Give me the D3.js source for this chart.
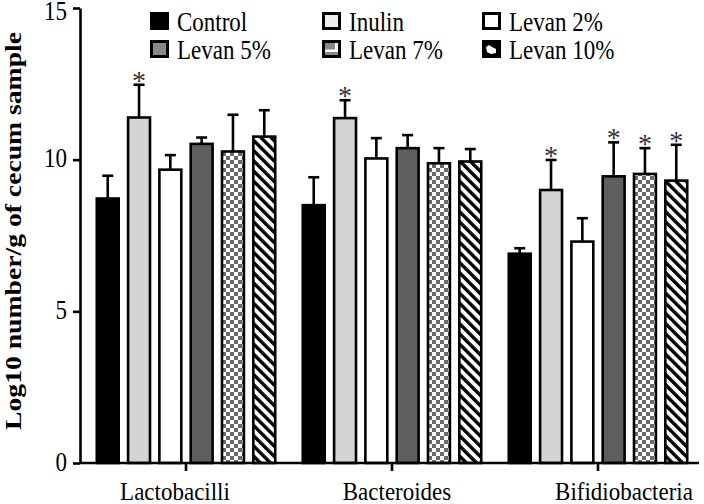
<!DOCTYPE html>
<html>
<head>
<meta charset="utf-8">
<script src="https://cdn.jsdelivr.net/npm/d3@7"></script>
<style>
  body { margin: 0; background: #fff; }
  svg text { font-family: "Liberation Serif", "Times New Roman", serif !important; }
</style>
</head>
<body>
<div id="chart"></div>
<script>
// data
var groups = ["Lactobacilli", "Bacteroides", "Bifidiobacteria"];
var series = ["Control", "Inulin", "Levan 2%", "Levan 5%", "Levan 7%", "Levan 10%"];

var control  = [8.72, 8.50, 6.90];
var inulin   = [11.39, 11.37, 9.00];
var levan2   = [9.67, 10.04, 7.30];
var levan5   = [10.52, 10.38, 9.45];
var levan7   = [10.27, 9.88, 9.53];
var levan10  = [10.76, 9.94, 9.31];

var controlErr = [0.75, 0.92, 0.18];
var inulinErr  = [1.08, 0.59, 0.99];
var levan2Err  = [0.48, 0.67, 0.77];
var levan5Err  = [0.21, 0.43, 1.12];
var levan7Err  = [1.21, 0.50, 0.85];
var levan10Err = [0.87, 0.41, 1.18];

// significance marks (1 = asterisk)
var controlSig = [0, 0, 0];
var inulinSig  = [1, 1, 1];
var levan2Sig  = [0, 0, 0];
var levan5Sig  = [0, 0, 1];
var levan7Sig  = [0, 0, 1];
var levan10Sig = [0, 0, 1];

var yTicks = [0, 5, 10, 15];

var means = [control, inulin, levan2, levan5, levan7, levan10];
var errs = [controlErr, inulinErr, levan2Err, levan5Err, levan7Err, levan10Err];
var sigs = [controlSig, inulinSig, levan2Sig, levan5Sig, levan7Sig, levan10Sig];

var fills = ["#000", "#d4d4d4", "#fff", "#5e5e5e", "url(#checker)", "url(#hatch)"];
var serif = "'Liberation Serif', 'Times New Roman', serif";

var width = 704, height = 504;

var svg = d3.select("#chart").append("svg")
    .attr("width", width)
    .attr("height", height);

var defs = svg.append("defs");

var checker = defs.append("pattern")
    .attr("id", "checker")
    .attr("patternUnits", "userSpaceOnUse")
    .attr("width", 8).attr("height", 8);
checker.append("rect").attr("width", 8).attr("height", 8).attr("fill", "#fff");
checker.append("rect").attr("width", 4).attr("height", 4).attr("fill", "#6a6a6a");
checker.append("rect").attr("x", 4).attr("y", 4).attr("width", 4).attr("height", 4).attr("fill", "#6a6a6a");

var hatch = defs.append("pattern")
    .attr("id", "hatch")
    .attr("patternUnits", "userSpaceOnUse")
    .attr("width", 7.2).attr("height", 7.2)
    .attr("patternTransform", "rotate(-45)");
hatch.append("rect").attr("width", 7.2).attr("height", 7.2).attr("fill", "#fff");
hatch.append("rect").attr("width", 3.4).attr("height", 7.2).attr("fill", "#000");

var y = d3.scaleLinear().domain([0, 15]).range([463, 8]);

var x0 = d3.scaleBand().domain(groups).range([83, 701]);
var x1 = d3.scaleBand().domain(series).range([0, x0.bandwidth()])
    .paddingInner(0.3).paddingOuter(0.44);

// bars
var rows = [];
series.forEach(function (s, si) {
    groups.forEach(function (g, gi) {
        rows.push({ group: g, series: s, si: si, value: means[si][gi], err: errs[si][gi], sig: sigs[si][gi] });
    });
});

var bars = svg.append("g").selectAll("g.bar")
    .data(rows)
    .enter().append("g")
    .attr("class", "bar")
    .attr("transform", function (d) { return "translate(" + (x0(d.group) + x1(d.series)) + ",0)"; });

var bw = x1.bandwidth();

// error bars (upper only)
bars.append("line")
    .attr("x1", bw / 2).attr("x2", bw / 2)
    .attr("y1", function (d) { return y(d.value); })
    .attr("y2", function (d) { return y(d.value + d.err); })
    .attr("stroke", "#000").attr("stroke-width", 2.6);
bars.append("line")
    .attr("x1", bw / 2 - 5.5).attr("x2", bw / 2 + 5.5)
    .attr("y1", function (d) { return y(d.value + d.err); })
    .attr("y2", function (d) { return y(d.value + d.err); })
    .attr("stroke", "#000").attr("stroke-width", 2.6);

bars.append("rect")
    .attr("y", function (d) { return y(d.value); })
    .attr("width", bw)
    .attr("height", function (d) { return y(0) - y(d.value); })
    .attr("fill", function (d) { return fills[d.si]; })
    .attr("stroke", "#000")
    .attr("stroke-width", 2.6);

bars.filter(function (d) { return d.sig; })
    .append("text")
    .attr("x", bw / 2)
    .attr("y", function (d) { return y(d.value + d.err) + 5; })
    .attr("text-anchor", "middle")
    .attr("font-size", 28)
    .attr("fill", "#333")
    .text("*");

// y axis
var yAxis = svg.append("g")
    .attr("transform", "translate(80,0)")
    .call(d3.axisLeft(y).tickValues(yTicks).tickSize(7).tickSizeOuter(0).tickPadding(6));
yAxis.attr("font-family", null);
yAxis.select(".domain").attr("stroke-width", 2.6);
yAxis.selectAll(".tick line").attr("stroke-width", 2.6);
yAxis.selectAll(".tick text")
    .style("font-family", serif)
    .attr("font-size", 23)
    .attr("fill", "#000")
    .attr("x", null).attr("dy", null)
    .attr("transform", function (d) { return "translate(-13," + (d === 15 ? 11 : 7) + ") scale(1,1.15)"; });

// x axis
var xAxis = svg.append("g")
    .attr("transform", "translate(0," + y(0) + ")")
    .call(d3.axisBottom(x0).tickSize(8).tickSizeOuter(0).tickFormat(""));
xAxis.select(".domain").attr("d", "M80,0H699").attr("stroke-width", 2.6);
xAxis.selectAll(".tick line").attr("stroke-width", 2.6);

var labelShift = [-11, 5, 26];
svg.append("g").selectAll("text")
    .data(groups)
    .enter().append("text")
    .attr("transform", function (d, i) {
        return "translate(" + (x0(d) + x0.bandwidth() / 2 + labelShift[i]) + ",500) scale(1,1.12)";
    })
    .attr("text-anchor", "middle")
    .style("font-family", serif)
    .attr("font-size", 23)
    .text(function (d) { return d; });

svg.append("text")
    .attr("transform", "translate(21,231) rotate(-90)")
    .attr("text-anchor", "middle")
    .style("font-family", serif)
    .attr("font-weight", "bold")
    .attr("font-size", 23)
    .attr("textLength", 398)
    .attr("lengthAdjust", "spacingAndGlyphs")
    .text("Log10 number/g of cecum sample");

// legend
var legX = [150, 322, 482], legY = [12, 40];
var legend = svg.append("g").selectAll("g")
    .data(series)
    .enter().append("g")
    .attr("transform", function (d, i) { return "translate(" + legX[i % 3] + "," + legY[Math.floor(i / 3)] + ")"; });

var swFills = ["#000", "#eee", "#fff", "#888", "#888", "#000"];
legend.append("rect")
    .attr("x", 1.5).attr("y", 1.5)
    .attr("width", 16).attr("height", 15)
    .attr("fill", function (d, i) { return swFills[i]; })
    .attr("stroke", "#000").attr("stroke-width", 3);
legend.filter(function (d, i) { return i === 4; })
    .append("path")
    .attr("d", "M3,12H16V3H13V9.5H3Z")
    .attr("fill", "#fff");
legend.filter(function (d, i) { return i === 5; })
    .append("path")
    .attr("d", "M4,7L7,5L10,7L14,9L14,13L9,14L5,12Z")
    .attr("fill", "#fff");
legend.append("text")
    .attr("transform", "translate(27,19) scale(1,1.15)")
    .style("font-family", serif)
    .attr("font-size", 23)
    .text(function (d) { return d; });
</script>
</body>
</html>
